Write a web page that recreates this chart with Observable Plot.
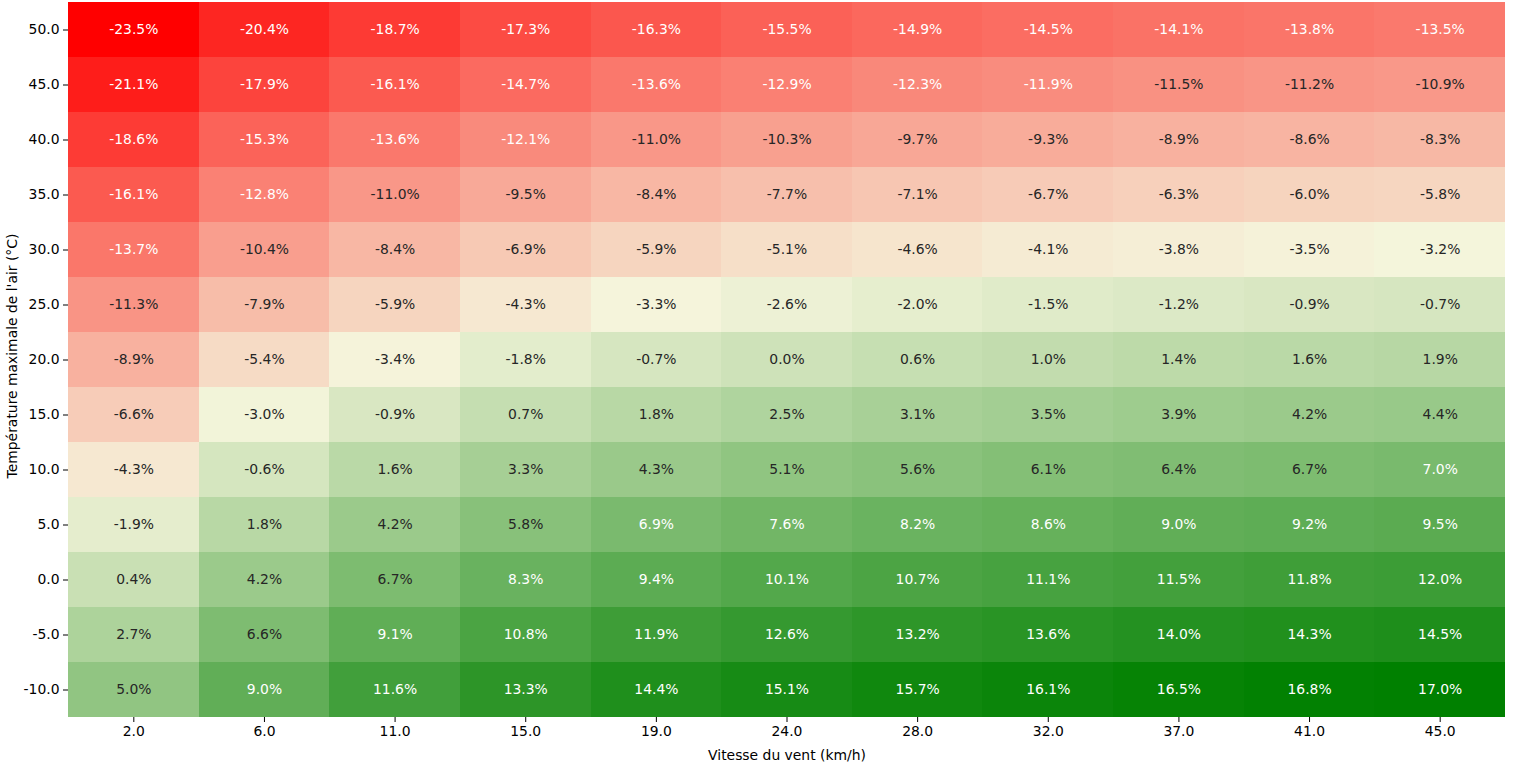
<!DOCTYPE html>
<html>
<head>
<meta charset="utf-8">
<script src="https://cdn.jsdelivr.net/npm/d3@7"></script>
<script src="https://cdn.jsdelivr.net/npm/@observablehq/plot@0.6"></script>
<style>
  html, body { margin: 0; padding: 0; background: #fff; }
  #chart svg { display: block; }
</style>
</head>
<body>
<div id="chart"></div>
<script>
const windSpeeds = ["2.0","6.0","11.0","15.0","19.0","24.0","28.0","32.0","37.0","41.0","45.0"];
const temperatures = ["50.0","45.0","40.0","35.0","30.0","25.0","20.0","15.0","10.0","5.0","0.0","-5.0","-10.0"];
const row50  = [-23.5,-20.4,-18.7,-17.3,-16.3,-15.5,-14.9,-14.5,-14.1,-13.8,-13.5];
const row45  = [-21.1,-17.9,-16.1,-14.7,-13.6,-12.9,-12.3,-11.9,-11.5,-11.2,-10.9];
const row40  = [-18.6,-15.3,-13.6,-12.1,-11.0,-10.3,-9.7,-9.3,-8.9,-8.6,-8.3];
const row35  = [-16.1,-12.8,-11.0,-9.5,-8.4,-7.7,-7.1,-6.7,-6.3,-6.0,-5.8];
const row30  = [-13.7,-10.4,-8.4,-6.9,-5.9,-5.1,-4.6,-4.1,-3.8,-3.5,-3.2];
const row25  = [-11.3,-7.9,-5.9,-4.3,-3.3,-2.6,-2.0,-1.5,-1.2,-0.9,-0.7];
const row20  = [-8.9,-5.4,-3.4,-1.8,-0.7,0.0,0.6,1.0,1.4,1.6,1.9];
const row15  = [-6.6,-3.0,-0.9,0.7,1.8,2.5,3.1,3.5,3.9,4.2,4.4];
const row10  = [-4.3,-0.6,1.6,3.3,4.3,5.1,5.6,6.1,6.4,6.7,7.0];
const row5   = [-1.9,1.8,4.2,5.8,6.9,7.6,8.2,8.6,9.0,9.2,9.5];
const row0   = [0.4,4.2,6.7,8.3,9.4,10.1,10.7,11.1,11.5,11.8,12.0];
const rowM5  = [2.7,6.6,9.1,10.8,11.9,12.6,13.2,13.6,14.0,14.3,14.5];
const rowM10 = [5.0,9.0,11.6,13.3,14.4,15.1,15.7,16.1,16.5,16.8,17.0];
const rows = [row50,row45,row40,row35,row30,row25,row20,row15,row10,row5,row0,rowM5,rowM10];

const cells = [];
rows.forEach((r, i) => r.forEach((v, j) => cells.push({x: windSpeeds[j], y: temperatures[i], v})));

const vmin = d3.min(cells, d => d.v), vmax = d3.max(cells, d => d.v);
const colorDomain = [vmin, (vmin + vmax) / 2, vmax];
const colorRange = ["red", "beige", "green"];
const cscale = d3.scaleLinear().domain(colorDomain).range(colorRange).interpolate(d3.interpolateRgb);

function luminance(c) {
  const rgb = d3.rgb(c);
  const lin = [rgb.r, rgb.g, rgb.b].map(u => {
    u /= 255;
    return u <= 0.03928 ? u / 12.92 : Math.pow((u + 0.055) / 1.055, 2.4);
  });
  return 0.2126 * lin[0] + 0.7152 * lin[1] + 0.0722 * lin[2];
}
const textColor = d => luminance(cscale(d.v)) > 0.408 ? "#262626" : "white";
const FS = 13.9;

const chart = Plot.plot({
  width: 1513,
  height: 765,
  marginLeft: 68,
  marginRight: 8,
  marginTop: 2,
  marginBottom: 48,
  style: {fontFamily: "DejaVu Sans, sans-serif", fontSize: FS + "px", color: "#000", background: "white"},
  x: {type: "band", domain: windSpeeds, padding: 0, round: false, label: null},
  y: {type: "band", domain: temperatures, padding: 0, round: false, label: null},
  color: {type: "linear", domain: colorDomain, range: colorRange, interpolate: "rgb"},
  marks: [
    Plot.cell(cells, {x: "x", y: "y", fill: "v", inset: 0, shapeRendering: "crispEdges"}),
    Plot.text(cells, {x: "x", y: "y", text: d => d.v.toFixed(1) + "%", fill: textColor, fontSize: FS}),
    Plot.axisX({tickSize: 5, tickPadding: 4, fontSize: FS, label: null}),
    Plot.axisY({tickSize: 5, tickPadding: 4, fontSize: FS, label: null}),
    Plot.text(["Vitesse du vent (km/h)"], {frameAnchor: "bottom", dy: 42, fontSize: FS, fill: "black"}),
    Plot.text(["Température maximale de l'air (°C)"], {frameAnchor: "left", textAnchor: "middle", dx: -56, dy: -4, rotate: -90, fontSize: FS, fill: "black"})
  ]
});
document.getElementById("chart").appendChild(chart);
</script>
</body>
</html>
